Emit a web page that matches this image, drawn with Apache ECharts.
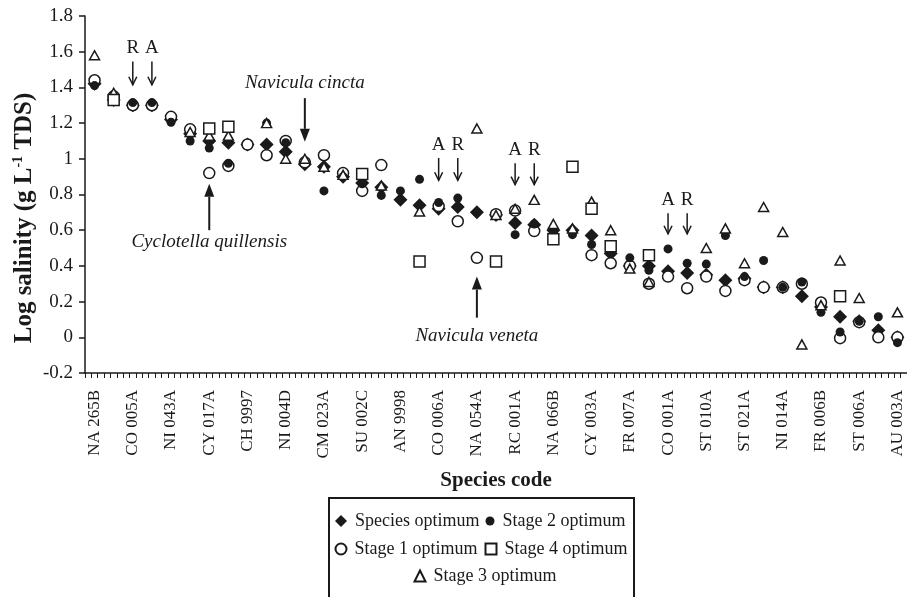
<!DOCTYPE html>
<html>
<head>
<meta charset="utf-8">
<script src="https://cdn.jsdelivr.net/npm/echarts@6/dist/echarts.min.js"></script>
<style>
  html, body { margin: 0; padding: 0; background: #ffffff; }
  #chart { width: 907px; height: 597px; }
</style>
</head>
<body>
<div id="chart"></div>
<script>
// Species codes printed under every second category
const tickLabels = [
  'NA 265B', 'CO 005A', 'NI 043A', 'CY 017A', 'CH 9997', 'NI 004D', 'CM 023A',
  'SU 002C', 'AN 9998', 'CO 006A', 'NA 054A', 'RC 001A', 'NA 066B', 'CY 003A',
  'FR 007A', 'CO 001A', 'ST 010A', 'ST 021A', 'NI 014A', 'FR 006B', 'ST 006A', 'AU 003A'
];

// Log salinity optima (g L-1 TDS), one entry per species, null = not plotted
const speciesOptimum = [
  1.42, 1.33, 1.30, 1.30, 1.22, 1.14, 1.10, 1.09, 1.08, 1.08, 1.04, 0.97, 0.955,
  0.90, 0.865, 0.84, 0.77, 0.74, 0.72, 0.73, 0.70, 0.685, 0.64, 0.63, 0.60, 0.60,
  0.57, 0.47, 0.40, 0.40, 0.37, 0.36, 0.35, 0.32, 0.33, 0.28, 0.28, 0.23, 0.17,
  0.115, 0.09, 0.04, 0.0
];
const stage1Optimum = [
  1.44, 1.35, 1.30, 1.30, 1.235, 1.165, 0.92, 0.96, 1.08, 1.02, 1.10, 0.98, 1.02,
  0.92, 0.82, 0.965, null, null, 0.735, 0.65, 0.445, 0.69, 0.71, 0.595, null, null,
  0.46, 0.415, 0.40, 0.30, 0.34, 0.275, 0.34, 0.26, 0.32, 0.28, 0.28, 0.30, 0.195,
  -0.005, 0.085, 0.0, 0.0
];
const stage2Optimum = [
  1.41, 1.33, 1.315, 1.315, 1.205, 1.10, 1.06, 0.975, null, 1.20, 1.09, null, 0.82,
  0.90, 0.86, 0.795, 0.82, 0.885, 0.755, 0.78, 0.70, null, 0.575, 0.635, 0.585, 0.575,
  0.52, null, 0.445, 0.375, 0.495, 0.415, 0.41, 0.57, 0.34, 0.43, 0.28, 0.31, 0.14,
  0.03, 0.09, 0.115, -0.03
];
const stage3Optimum = [
  1.58, 1.37, null, null, null, 1.15, 1.13, 1.13, null, 1.20, 1.00, 1.00, 0.955,
  0.91, null, 0.85, null, 0.705, null, null, 1.17, 0.685, 0.72, 0.77, 0.635, 0.61,
  0.76, 0.60, 0.385, 0.31, null, null, 0.50, 0.61, 0.415, 0.73, 0.59, -0.04, 0.18,
  0.43, 0.22, null, 0.14
];
const stage4Optimum = [
  null, 1.33, null, null, null, null, 1.17, 1.18, null, null, null, null, null,
  null, 0.915, null, null, 0.425, null, null, null, 0.425, null, null, 0.55, 0.955,
  0.72, 0.51, null, 0.46, null, null, null, null, null, null, null, null, null,
  0.23, null, null, null
];

// Autecological notes: A / R arrows above pairs of species
const letterArrows = [
  { cats: [2, 3],   letters: ['R', 'A'], letterAt: 1.62,  from: 1.545, to: 1.415 },
  { cats: [18, 19], letters: ['A', 'R'], letterAt: 1.08,  from: 1.005, to: 0.88 },
  { cats: [22, 23], letters: ['A', 'R'], letterAt: 1.05,  from: 0.975, to: 0.855 },
  { cats: [30, 31], letters: ['A', 'R'], letterAt: 0.77,  from: 0.695, to: 0.58 }
];
// Named species with a pointer arrow
const callouts = [
  { text: 'Navicula cincta',       cat: 11, textAt: 1.426, from: 1.34, to: 1.095 },
  { text: 'Cyclotella quillensis', cat: 6,  textAt: 0.535, from: 0.60, to: 0.86 },
  { text: 'Navicula veneta',       cat: 20, textAt: 0.01,  from: 0.11, to: 0.34 }
];

const INK = '#1a1a1a';
const SERIF = '"Liberation Serif", "Times New Roman", serif';

const categories = speciesOptimum.map((_, i) => (i % 2 === 0 ? tickLabels[i / 2] : ''));
const toPoints = arr => arr.map((v, i) => (v == null ? null : [i, v])).filter(p => p !== null);

const chart = echarts.init(document.getElementById('chart'), null, { renderer: 'canvas' });

const openStyle = { color: '#ffffff', borderColor: INK, borderWidth: 1.5, opacity: 1 };
const solidStyle = { color: INK, borderWidth: 0, opacity: 1 };

// One legend block per entry so the five keys sit in a 2 + 2 + 1 arrangement
function legendFor(name, iconCenterX, top, size) {
  return {
    data: [name], left: iconCenterX - size / 2, top: top, padding: 0, orient: 'horizontal',
    itemWidth: size, itemHeight: size, selectedMode: false,
    textStyle: { fontFamily: SERIF, fontSize: 18, color: INK, padding: [0, 0, 0, 3] }
  };
}

const option = {
  animation: false,
  backgroundColor: '#ffffff',
  grid: { left: 85, right: -4, top: 16, bottom: 224, containLabel: false },
  xAxis: [
    {
      type: 'category', data: categories, boundaryGap: true, position: 'bottom',
      axisLine: { show: true, onZero: false, lineStyle: { color: INK, width: 1.5 } },
      axisTick: { show: false },
      axisLabel: { interval: 0, rotate: 90, margin: 17, fontFamily: SERIF, fontSize: 17, color: INK },
      splitLine: { show: false }
    },
    {
      // minor tick ruler along the category axis (three ticks per species)
      type: 'value', position: 'bottom', min: 0, max: categories.length * 3, interval: 1,
      axisLine: { show: false, onZero: false },
      axisTick: { show: true, length: 5, lineStyle: { color: INK, width: 1 } },
      axisLabel: { show: false }, splitLine: { show: false }
    }
  ],
  yAxis: {
    type: 'value', min: -0.2, max: 1.8, interval: 0.2,
    axisLine: { show: true, onZero: false, lineStyle: { color: INK, width: 1.5 } },
    axisTick: { show: true, inside: false, length: 6, lineStyle: { color: INK, width: 1.5 } },
    axisLabel: { margin: 12, fontFamily: SERIF, fontSize: 19, color: INK,
      formatter: v => String(Math.round(v * 10) / 10) },
    splitLine: { show: false }
  },
  legend: [
    legendFor('Species optimum', 341, 512, 12),
    legendFor('Stage 2 optimum', 490, 512, 9),
    legendFor('Stage 1 optimum', 340, 540, 11),
    legendFor('Stage 4 optimum', 490, 540, 11),
    legendFor('Stage 3 optimum', 419, 567, 11)
  ],
  series: [
    { name: 'Species optimum', type: 'scatter', xAxisIndex: 0, z: 2, symbolKeepAspect: true,
      symbol: 'diamond', symbolSize: 14, itemStyle: solidStyle, data: toPoints(speciesOptimum) },
    { name: 'Stage 1 optimum', type: 'scatter', xAxisIndex: 0, z: 3, symbolKeepAspect: true,
      symbol: 'circle', symbolSize: 11, itemStyle: openStyle, data: toPoints(stage1Optimum) },
    { name: 'Stage 2 optimum', type: 'scatter', xAxisIndex: 0, z: 4, symbolKeepAspect: true,
      symbol: 'circle', symbolSize: 9, itemStyle: solidStyle, data: toPoints(stage2Optimum) },
    { name: 'Stage 3 optimum', type: 'scatter', xAxisIndex: 0, z: 5, symbolKeepAspect: true,
      symbol: 'triangle', symbolSize: [10, 9], itemStyle: openStyle, data: toPoints(stage3Optimum) },
    { name: 'Stage 4 optimum', type: 'scatter', xAxisIndex: 0, z: 6, symbolKeepAspect: true,
      symbol: 'rect', symbolSize: 11, itemStyle: openStyle, data: toPoints(stage4Optimum) }
  ]
};

chart.setOption(option);

// Annotations placed in data space, converted through the chart's own scales
const px = (cat, val) => chart.convertToPixel({ xAxisIndex: 0, yAxisIndex: 0 }, [cat, val]);
const graphics = [];

letterArrows.forEach(g => {
  g.cats.forEach((cat, k) => {
    const [x, yText] = px(cat, g.letterAt);
    const yFrom = px(cat, g.from)[1];
    const yTo = px(cat, g.to)[1];
    graphics.push({ type: 'text', x: x, y: yText, z: 10,
      style: { text: g.letters[k], font: '19px ' + SERIF, fill: INK, align: 'center', verticalAlign: 'middle' } });
    graphics.push({ type: 'line', z: 10, shape: { x1: x, y1: yFrom, x2: x, y2: yTo },
      style: { stroke: INK, lineWidth: 1.5 } });
    graphics.push({ type: 'polyline', z: 10,
      shape: { points: [[x - 4, yTo - 8], [x, yTo], [x + 4, yTo - 8]] },
      style: { stroke: INK, lineWidth: 1.5, fill: 'none' } });
  });
});

callouts.forEach(c => {
  const [x, yText] = px(c.cat, c.textAt);
  const yFrom = px(c.cat, c.from)[1];
  const yTo = px(c.cat, c.to)[1];
  const dir = yTo > yFrom ? 1 : -1;
  const headLen = 13, headHalf = 5;
  graphics.push({ type: 'text', x: x, y: yText, z: 10,
    style: { text: c.text, font: 'italic 19px ' + SERIF, fill: INK, align: 'center', verticalAlign: 'middle' } });
  graphics.push({ type: 'line', z: 10, shape: { x1: x, y1: yFrom, x2: x, y2: yTo - dir * headLen },
    style: { stroke: INK, lineWidth: 2 } });
  graphics.push({ type: 'polygon', z: 10,
    shape: { points: [[x - headHalf, yTo - dir * headLen], [x, yTo], [x + headHalf, yTo - dir * headLen]] },
    style: { fill: INK } });
});

// Axis titles
graphics.push({ type: 'text', x: 25, y: 218, rotation: Math.PI / 2, z: 10,
  style: {
    text: '{t|Log salinity (g L}{s|-1}{t| TDS)}',
    align: 'center', verticalAlign: 'middle',
    rich: {
      t: { fontFamily: SERIF, fontWeight: 'bold', fontSize: 25, fill: INK, lineHeight: 28 },
      s: { fontFamily: SERIF, fontWeight: 'bold', fontSize: 14, fill: INK, verticalAlign: 'top', lineHeight: 28 }
    }
  } });
graphics.push({ type: 'text', x: 496, y: 481, z: 10,
  style: { text: 'Species code', font: 'bold 21px ' + SERIF, fill: INK, align: 'center', verticalAlign: 'middle' } });

// Legend frame (open at the bottom edge of the page)
graphics.push({ type: 'rect', z: 0, shape: { x: 329, y: 498, width: 305, height: 120 },
  style: { fill: 'none', stroke: INK, lineWidth: 2 } });

chart.setOption({ graphic: graphics });
</script>
</body>
</html>
